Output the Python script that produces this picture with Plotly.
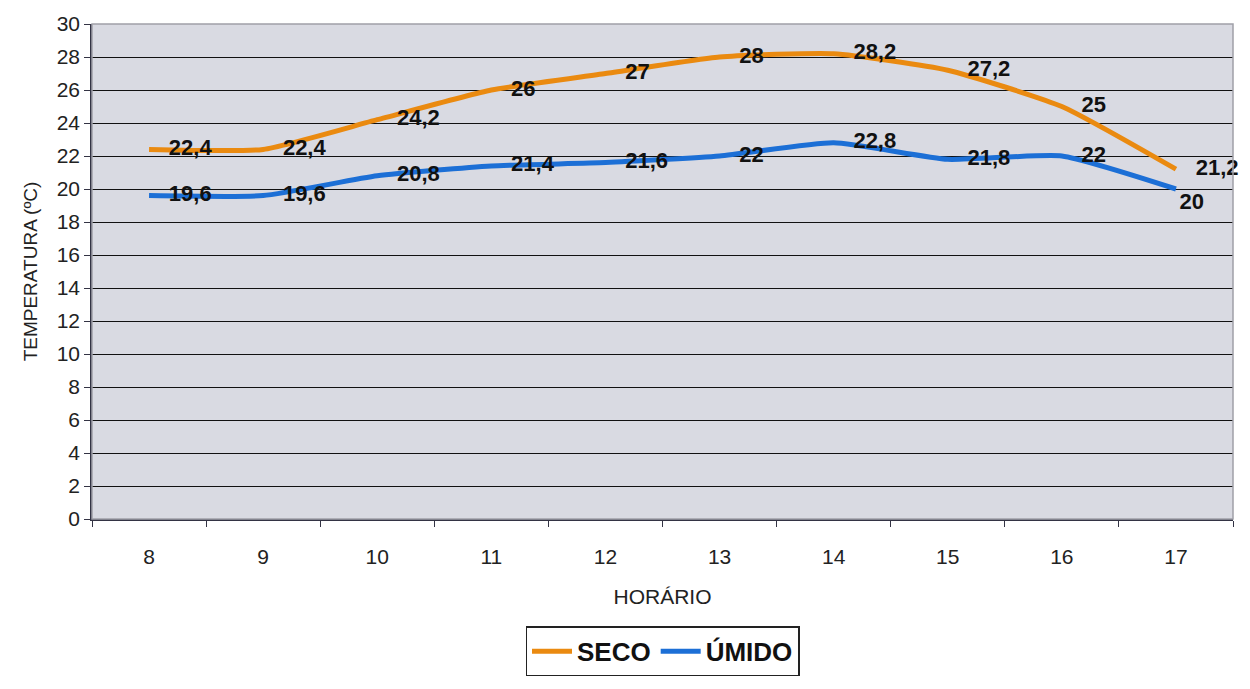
import plotly.graph_objects as go

# Horário (h) e temperaturas de bulbo seco e úmido (ºC)
horario = ["8", "9", "10", "11", "12", "13", "14", "15", "16", "17"]
seco = [22.4, 22.4, 24.2, 26, 27, 28, 28.2, 27.2, 25, 21.2]
umido = [19.6, 19.6, 20.8, 21.4, 21.6, 22, 22.8, 21.8, 22, 20]
y_ticks = list(range(0, 31, 2))


def rotulo(v):
    return f"{v:g}".replace(".", ",")


FONT = "Arial, Liberation Sans, sans-serif"
label_font = dict(family=FONT, size=22, color="#111111")

fig = go.Figure()
series = [("SECO", seco, "#ea8a10"), ("ÚMIDO", umido, "#1c6fd6")]
for nome, valores, cor in series:
    fig.add_trace(go.Scatter(
        x=horario, y=valores, name=f"<b>{nome}</b>", mode="lines",
        line=dict(color=cor, width=5, shape="spline", smoothing=0.5),
    ))

# rótulos de valor; o marcador invisível afasta o texto do ponto.
# O último rótulo do bulbo úmido desce um pouco para não tocar o do seco.
n = len(horario)
posicoes = {
    "SECO": ["middle right"] * n,
    "ÚMIDO": ["middle right"] * (n - 1) + ["bottom right"],
}
tamanhos = {
    "SECO": [30] * n,
    "ÚMIDO": [30] * (n - 1) + [4],
}
for nome, valores, cor in series:
    fig.add_trace(go.Scatter(
        x=horario, y=valores, mode="markers+text", showlegend=False,
        marker=dict(size=tamanhos[nome], opacity=0, color=cor),
        text=[f"<b>{rotulo(v)}</b>" for v in valores],
        textposition=posicoes[nome], textfont=label_font,
        cliponaxis=False, hoverinfo="skip",
    ))

fig.update_layout(
    width=1250, height=689,
    margin=dict(l=92, r=17, t=20, b=169),
    paper_bgcolor="white",
    plot_bgcolor="#d9dae2",
    font=dict(family=FONT, size=21, color="#222222"),
    showlegend=True,
    legend=dict(
        orientation="h", x=0.5, xanchor="center", y=-0.318, yanchor="bottom",
        bordercolor="#222222", borderwidth=1.5, bgcolor="white",
        font=dict(family=FONT, size=26, color="#111111"),
        itemwidth=40, tracegroupgap=0,
    ),
    xaxis=dict(
        type="category", range=[-0.5, 9.5],
        tickson="boundaries", ticks="outside", ticklen=6, tickcolor="#333344",
        ticklabelstandoff=18,
        showgrid=False, showline=True, linecolor="#333344", linewidth=1.5,
        title=dict(text="HORÁRIO", font=dict(size=21), standoff=22),
        tickfont=dict(size=21),
    ),
    yaxis=dict(
        range=[0, 30], tickvals=y_ticks,
        ticks="outside", ticklen=6, tickcolor="#333344",
        showgrid=True, gridcolor="#111111", gridwidth=1,
        showline=True, linecolor="#333344", linewidth=1.5,
        zeroline=False,
        title=dict(text="TEMPERATURA (ºC)", font=dict(size=19), standoff=14),
        tickfont=dict(size=21),
    ),
)

# contorno da área de plotagem
fig.add_shape(type="rect", xref="paper", yref="paper", x0=0, y0=0, x1=1, y1=1,
              line=dict(color="#a0a0a8", width=1.5), layer="above")

fig.write_html("out.html")
